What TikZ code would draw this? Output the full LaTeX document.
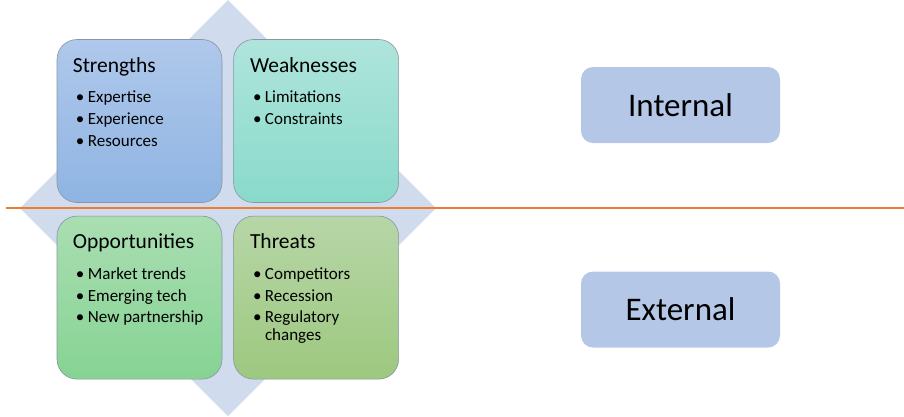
\documentclass[tikz,border=0pt]{standalone}
\usepackage{fontspec}
\setmainfont{Carlito}
\usetikzlibrary{positioning, calc}
\definecolor{diamondcolor}{RGB}{208,219,238}
\definecolor{strengthtop}{RGB}{175,200,235}
\definecolor{strengthbot}{RGB}{143,180,226}
\definecolor{weaktop}{RGB}{175,228,219}
\definecolor{weakbot}{RGB}{137,218,203}
\definecolor{opptop}{RGB}{170,222,178}
\definecolor{oppbot}{RGB}{134,211,147}
\definecolor{threattop}{RGB}{183,214,167}
\definecolor{threatbot}{RGB}{157,200,127}
\definecolor{edgecolor}{RGB}{135,150,160}
\definecolor{splitcolor}{RGB}{237,125,49}
\definecolor{levelcolor}{RGB}{180,199,231}
\newcommand{\swotitem}[1]{\makebox[12pt][l]{\textbullet}#1}
\tikzstyle{quad} = [rectangle, draw=edgecolor, line width=0.6pt, rounded corners=20pt, minimum width=165pt, minimum height=163pt, inner sep=0pt]
\tikzstyle{quadtitle} = [anchor=base west, inner sep=0pt, font=\fontsize{21.5}{25}\selectfont]
\tikzstyle{itemtext} = [anchor=base west, inner sep=0pt, font=\fontsize{17}{20}\selectfont]
\tikzstyle{levelbox} = [rectangle, fill=levelcolor, rounded corners=12pt, minimum width=199pt, minimum height=76pt, font=\fontsize{33}{40}\selectfont]

\begin{document}
\begin{tikzpicture}[x=1pt, y=-1pt, node distance=11pt]
\useasboundingbox (0,0) rectangle (904,416);

% Background diamond
\fill[diamondcolor] (228,0) -- (436,208) -- (228,416) -- (20,208) -- cycle;

% Internal / external split
\draw[splitcolor, line width=2pt] (6,208) -- (904,208);

% Quadrant boxes
\node[quad, top color=strengthtop, bottom color=strengthbot] (strengths) at (139.5,121) {};
\node[quad, top color=weaktop, bottom color=weakbot, right=11pt of strengths] (weaknesses) {};
\node[quad, top color=opptop, bottom color=oppbot, below=13pt of strengths] (opportunities) {};
\node[quad, top color=threattop, bottom color=threatbot, right=11pt of opportunities] (threats) {};

% Quadrant titles
\node[quadtitle] (strengthstitle) at ($(strengths.north west)+(16,33)$) {Strengths};
\node[quadtitle] (weaknessestitle) at ($(weaknesses.north west)+(16.5,33)$) {Weaknesses};
\node[quadtitle] (opportunitiestitle) at ($(opportunities.north west)+(16,33)$) {Opportunities};
\node[quadtitle] (threatstitle) at ($(threats.north west)+(16.5,33)$) {Threats};

% Bullet lists
\foreach \entry [count=\i] in {Expertise, Experience, Resources}
  \node[itemtext] (strengths-\i) at ($(strengths.north west)+(19,41.7+21.8*\i)$) {\swotitem{\entry}};
\foreach \entry [count=\i] in {Limitations, Constraints}
  \node[itemtext] (weaknesses-\i) at ($(weaknesses.north west)+(19.5,41.7+21.8*\i)$) {\swotitem{\entry}};
\foreach \entry [count=\i] in {Market trends, Emerging tech, New partnership}
  \node[itemtext] (opportunities-\i) at ($(opportunities.north west)+(19,41.7+21.8*\i)$) {\swotitem{\entry}};
\foreach \entry [count=\i] in {Competitors, Recession, Regulatory}
  \node[itemtext] (threats-\i) at ($(threats.north west)+(19.5,41.7+21.8*\i)$) {\swotitem{\entry}};
\node[itemtext, anchor=base west] (threats-4) at ($(threats-3.base west)+(12,17.5)$) {changes};

% Level labels
\node[levelbox] (internal) at (680.5,105) {Internal};
\node[levelbox] (external) at (680.5,309.5) {External};

\end{tikzpicture}
\end{document}
